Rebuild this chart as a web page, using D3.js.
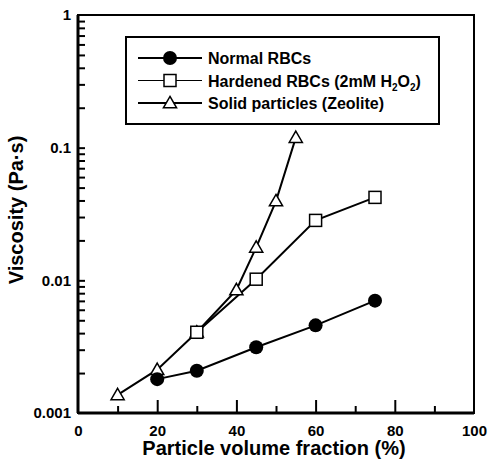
<!DOCTYPE html>
<html>
<head>
<meta charset="utf-8">
<script src="https://cdn.jsdelivr.net/npm/d3@7"></script>
<style>
  body { margin: 0; background: #fff; }
  text { font-family: "Liberation Sans", Arial, sans-serif; font-weight: bold; fill: #000; }
</style>
</head>
<body>
<div id="chart"></div>
<script>
var normal_x = [20, 30, 45, 60, 75],
    normal_y = [0.0018, 0.00208, 0.00313, 0.00458, 0.00703];
var hardened_x = [30, 45, 60, 75],
    hardened_y = [0.00406, 0.0102, 0.0283, 0.0422];
var solid_x = [10, 20, 30, 40, 45, 50, 55],
    solid_y = [0.00137, 0.00212, 0.00406, 0.00846, 0.0177, 0.0396, 0.119];

var x_ticks = [0, 20, 40, 60, 80, 100],
    y_ticks = [0.001, 0.01, 0.1, 1],
    y_labels = ["0.001", "0.01", "0.1", "1"];

var legend_names = ["Normal RBCs", "Hardened RBCs (2mM H", "Solid particles (Zeolite)"];

var margin = {top: 15, right: 16, bottom: 49, left: 78},
    width = 490 - margin.left - margin.right,
    height = 462 - margin.top - margin.bottom;

var xScale = d3.scaleLinear().domain([0, 100]).range([0, width]),
    yScale = d3.scaleLog().domain([0.001, 1]).range([height, 0]);

var svg = d3.select("#chart").append("svg")
    .attr("width", 490)
    .attr("height", 462)
  .append("g")
    .attr("transform", "translate(" + margin.left + "," + margin.top + ")");

// frame
svg.append("rect")
    .attr("width", width)
    .attr("height", height)
    .attr("fill", "none")
    .attr("stroke", "#000")
    .attr("stroke-width", 2);
svg.append("line").attr("x1", 0).attr("x2", 0).attr("y1", 0).attr("y2", height)
    .attr("stroke", "#000").attr("stroke-width", 3);
svg.append("line").attr("x1", 0).attr("x2", width).attr("y1", height).attr("y2", height)
    .attr("stroke", "#000").attr("stroke-width", 3);

// x axis, ticks pointing inward
var xMinor = d3.range(10, 100, 20);
var xAxis = d3.axisBottom(xScale).tickValues(x_ticks).tickSizeInner(-13).tickSizeOuter(0).tickPadding(12);
var gx = svg.append("g").attr("transform", "translate(0," + height + ")").call(xAxis);
gx.select(".domain").remove();
gx.selectAll(".tick line").attr("stroke-width", 2);
gx.selectAll("text").style("font-size", "15px");
gx.selectAll(".tick").filter(function(d) { return d === 0 || d === 100; }).select("line").remove();

svg.append("g").attr("transform", "translate(0," + height + ")")
    .call(d3.axisBottom(xScale).tickValues(xMinor).tickSize(-7).tickFormat(""))
  .call(function(g) { g.select(".domain").remove(); g.selectAll("line").attr("stroke-width", 2); });

// y axis, log ticks pointing inward
var yMinor = [];
[0.001, 0.01, 0.1].forEach(function(d) {
  for (var k = 2; k <= 9; k++) yMinor.push(d * k);
});
var yAxis = d3.axisLeft(yScale).tickValues(y_ticks)
    .tickFormat(function(d, i) { return y_labels[i]; })
    .tickSizeInner(0).tickSizeOuter(0).tickPadding(7);
var gy = svg.append("g").call(yAxis);
gy.select(".domain").remove();
gy.selectAll("text").style("font-size", "15px");

svg.append("g")
    .call(d3.axisLeft(yScale).tickValues(yMinor.concat([0.1, 0.01])).tickSize(-7).tickFormat(""))
  .call(function(g) { g.select(".domain").remove(); g.selectAll("line").attr("stroke-width", 2); });

// axis titles
svg.append("text")
    .attr("x", width / 2 - 2)
    .attr("y", height + 42)
    .attr("text-anchor", "middle")
    .style("font-size", "20px")
    .text("Particle volume fraction (%)");

svg.append("text")
    .attr("transform", "rotate(-90)")
    .attr("x", -195)
    .attr("y", -55)
    .attr("text-anchor", "middle")
    .style("font-size", "20px")
    .text("Viscosity (Pa\u00b7s)");

// series
var line = d3.line()
    .x(function(d) { return xScale(d[0]); })
    .y(function(d) { return yScale(d[1]); });

function pairs(xs, ys) { return xs.map(function(v, i) { return [v, ys[i]]; }); }

var normal = pairs(normal_x, normal_y),
    hardened = pairs(hardened_x, hardened_y),
    solid = pairs(solid_x, solid_y);

[solid, hardened, normal].forEach(function(s) {
  svg.append("path").datum(s)
      .attr("d", line)
      .attr("fill", "none")
      .attr("stroke", "#000")
      .attr("stroke-width", 2);
});

var tri = d3.symbol().type(d3.symbolTriangle).size(75);

function drawCircle(g, cx, cy) {
  g.append("circle").attr("cx", cx).attr("cy", cy).attr("r", 7).attr("fill", "#000");
}
function drawSquare(g, cx, cy) {
  g.append("rect").attr("x", cx - 6).attr("y", cy - 6).attr("width", 12).attr("height", 12)
      .attr("fill", "#fff").attr("stroke", "#000").attr("stroke-width", 1.5);
}
function drawTriangle(g, cx, cy) {
  g.append("path").attr("d", tri).attr("transform", "translate(" + cx + "," + (cy + 1) + ")")
      .attr("fill", "#fff").attr("stroke", "#000").attr("stroke-width", 1.5);
}

solid.forEach(function(d) { drawTriangle(svg, xScale(d[0]), yScale(d[1])); });
hardened.forEach(function(d) { drawSquare(svg, xScale(d[0]), yScale(d[1])); });
normal.forEach(function(d) { drawCircle(svg, xScale(d[0]), yScale(d[1])); });

// legend
var lg = svg.append("g").attr("transform", "translate(48,22)");
lg.append("rect")
    .attr("width", 313)
    .attr("height", 87)
    .attr("fill", "#fff")
    .attr("stroke", "#000")
    .attr("stroke-width", 2);

var drawers = [drawCircle, drawSquare, drawTriangle];
legend_names.forEach(function(name, i) {
  var yy = 21 + i * 22.5;
  lg.append("line").attr("x1", 12).attr("x2", 76).attr("y1", yy).attr("y2", yy)
      .attr("stroke", "#000").attr("stroke-width", i === 1 ? 1.2 : 2);
  drawers[i](lg, 44, yy);
  var t = lg.append("text")
      .attr("x", 82)
      .attr("y", yy + 6)
      .style("font-size", "16px")
      .text(name);
  if (i === 1) {
    t.append("tspan").attr("dy", 4).style("font-size", "10px").text("2");
    t.append("tspan").attr("dy", -4).text("O");
    t.append("tspan").attr("dy", 4).style("font-size", "10px").text("2");
    t.append("tspan").attr("dy", -4).text(")");
  }
});
</script>
</body>
</html>
